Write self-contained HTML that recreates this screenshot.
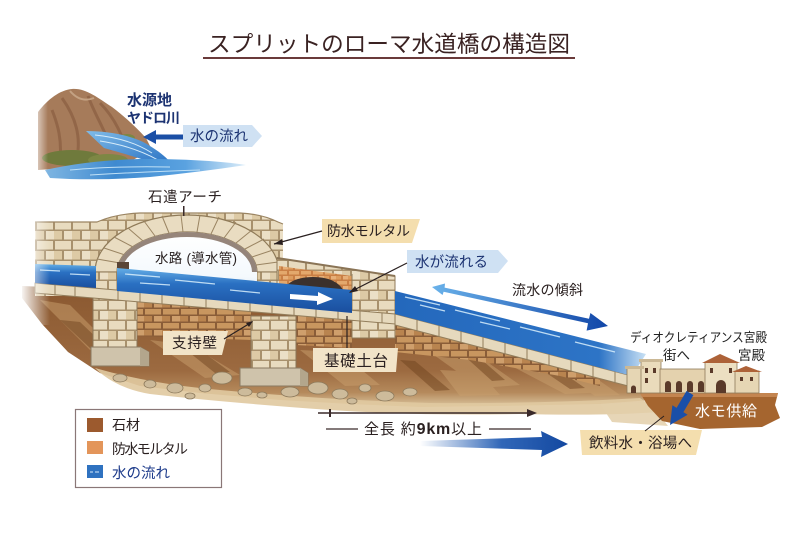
<!DOCTYPE html>
<html><head><meta charset="utf-8">
<style>
html,body{margin:0;padding:0;background:#fff;}
svg{display:block;}
text{font-family:"Liberation Sans","Noto Sans CJK JP",sans-serif;}
</style></head><body>
<svg width="800" height="533" viewBox="0 0 800 533" xmlns="http://www.w3.org/2000/svg">
<defs>
 <pattern id="st" width="18" height="20" patternUnits="userSpaceOnUse">
  <rect width="18" height="20" fill="#a8916d"/>
  <rect x="1" y="1" width="16" height="8.5" fill="#e8dbbf"/>
  <rect x="-8" y="11" width="16" height="8.5" fill="#ddcaa5"/>
  <rect x="10" y="11" width="16" height="8.5" fill="#ebdfc6"/>
 </pattern>
 <pattern id="ms" width="18" height="14" patternUnits="userSpaceOnUse">
  <rect width="18" height="14" fill="#8a5d38"/>
  <rect x="1" y="1" width="16" height="5.5" fill="#c8965f"/>
  <rect x="-8" y="8" width="16" height="5.5" fill="#b9844f"/>
  <rect x="10" y="8" width="16" height="5.5" fill="#cf9f6c"/>
 </pattern>
 <pattern id="mo" width="12" height="10" patternUnits="userSpaceOnUse">
  <rect width="12" height="10" fill="#c97f45"/>
  <rect x="1" y="1" width="10" height="3.5" fill="#e3a86c"/>
  <rect x="-5" y="6" width="10" height="3.5" fill="#dc9c5e"/>
  <rect x="7" y="6" width="10" height="3.5" fill="#e7b079"/>
 </pattern>
 <linearGradient id="earth" x1="0" y1="0" x2="0" y2="1">
  <stop offset="0" stop-color="#8a5830"/>
  <stop offset="0.7" stop-color="#9c6a40"/>
  <stop offset="0.88" stop-color="#b58a5c"/>
  <stop offset="1" stop-color="#dcc6a0"/>
 </linearGradient>
 <linearGradient id="wat" x1="0" y1="0" x2="0" y2="1">
  <stop offset="0" stop-color="#64aee6"/>
  <stop offset="0.35" stop-color="#2a70c2"/>
  <stop offset="1" stop-color="#1a4e9e"/>
 </linearGradient>
 <linearGradient id="watR" x1="395" y1="0" x2="650" y2="0" gradientUnits="userSpaceOnUse">
  <stop offset="0" stop-color="#2468bc"/>
  <stop offset="0.8" stop-color="#2d74c6"/>
  <stop offset="1" stop-color="#d6eaf8"/>
 </linearGradient>
 <linearGradient id="fadeL" x1="0" y1="0" x2="1" y2="0">
  <stop offset="0" stop-color="#fff" stop-opacity="1"/>
  <stop offset="1" stop-color="#fff" stop-opacity="0"/>
 </linearGradient>
 <linearGradient id="lake" x1="0" y1="0" x2="1" y2="0">
  <stop offset="0" stop-color="#7fb6e2"/>
  <stop offset="0.35" stop-color="#3f8ad0"/>
  <stop offset="0.7" stop-color="#5aa2e0"/>
  <stop offset="1" stop-color="#dcedf9"/>
 </linearGradient>
 <linearGradient id="fall" x1="0" y1="0" x2="1" y2="1">
  <stop offset="0" stop-color="#7fbbe8"/>
  <stop offset="1" stop-color="#2b73c4"/>
 </linearGradient>
 <linearGradient id="bigarr" x1="420" y1="0" x2="568" y2="0" gradientUnits="userSpaceOnUse">
  <stop offset="0" stop-color="#1a56b0" stop-opacity="0"/>
  <stop offset="0.55" stop-color="#1a56b0" stop-opacity="0.9"/>
  <stop offset="1" stop-color="#1348a0"/>
 </linearGradient>
 <linearGradient id="slarr" x1="432" y1="0" x2="608" y2="0" gradientUnits="userSpaceOnUse">
  <stop offset="0" stop-color="#6ab2ea"/>
  <stop offset="1" stop-color="#1146a8"/>
 </linearGradient>
 <linearGradient id="sky" x1="0" y1="0" x2="0" y2="1">
  <stop offset="0" stop-color="#ffffff"/>
  <stop offset="0.7" stop-color="#f4f9fd"/>
  <stop offset="1" stop-color="#cfe3f4"/>
 </linearGradient>
</defs>

<!-- Title -->
<text x="389" y="52" font-size="22.5" fill="#3a2222" text-anchor="middle" textLength="362" lengthAdjust="spacingAndGlyphs">スプリットのローマ水道橋の構造図</text>
<rect x="203" y="57" width="372" height="2" fill="#6a3a3a"/>

<!-- Mountain / source -->
<path d="M38,112 C48,99 60,90 72,89 C86,88 98,98 112,107 C124,116 136,127 146,138 L152,150 L125,164 L38,170 Z" fill="#a67b5a"/>
<path d="M62,98 C72,112 80,130 78,150 M88,96 C95,115 104,128 112,150 M100,103 C112,115 120,130 125,145 M52,110 C58,125 62,140 60,160" stroke="#8a5e40" stroke-width="3" fill="none" opacity="0.7"/>
<path d="M70,91 C76,98 84,102 94,98" stroke="#c4a283" stroke-width="2" fill="none"/>
<ellipse cx="72" cy="158" rx="30" ry="8" fill="#6f7a3c"/>
<ellipse cx="108" cy="160" rx="20" ry="6" fill="#7d8744"/>
<ellipse cx="127" cy="138" rx="8" ry="4" fill="#7d8744"/>
<path d="M86,131 C110,131 135,136 150,146 C158,151 165,156 170,162 L156,164 C140,158 118,152 104,148 Z" fill="url(#fall)"/>
<path d="M95,135 C115,137 135,142 152,153 M100,141 C120,144 140,150 158,160" stroke="#d6ecfa" stroke-width="1" fill="none"/>
<path d="M45,170 Q100,158 160,159 Q215,160 246,165 Q200,172 150,177 Q95,181 50,178 Z" fill="url(#lake)"/>
<path d="M70,170 Q110,166 170,167 M90,175 Q140,172 200,170" stroke="#bfe0f6" stroke-width="1" fill="none"/>
<rect x="30" y="85" width="18" height="100" fill="url(#fadeL)"/>

<text x="127" y="105" font-size="15" fill="#1c3372" font-weight="bold">水源地</text>
<text x="127" y="123" font-size="14" fill="#1c3372" font-weight="bold" textLength="53">ヤドロ川</text>
<polygon points="183,125 252,125 262,136 252,147 183,147" fill="#cfe1f3"/>
<text x="190" y="141" font-size="14.5" fill="#1c3372" textLength="58">水の流れ</text>
<rect x="153" y="134.5" width="30" height="5" fill="#1b4fa6"/>
<polygon points="143,137 156,130 156,144" fill="#1b4fa6"/>

<!-- Ground / earth -->
<path d="M22,286 L96,289 L395,314 L632,377 L660,392 L650,400 L600,404 L500,406 L420,407 L350,404 L280,400 L200,393 L140,386 L100,373 L68,352 L42,324 L22,298 Z" fill="url(#earth)"/>
<!-- earth streaks -->
<g fill="#c9a06e" opacity="0.5">
 <path d="M40,300 L70,305 L110,345 L90,350 Z"/>
 <path d="M150,340 L190,345 L240,375 L205,378 Z"/>
 <path d="M300,350 L340,352 L380,385 L345,386 Z"/>
 <path d="M420,345 L470,350 L520,385 L480,388 Z"/>
 <path d="M500,360 L560,365 L610,392 L565,394 Z"/>
 <path d="M440,370 L480,372 L500,395 L460,396 Z"/>
 <path d="M560,372 L590,374 L620,395 L595,396 Z"/>
</g>
<g fill="#70441f" opacity="0.5">
 <path d="M60,320 L80,322 L120,360 L105,362 Z"/>
 <path d="M180,345 L195,346 L230,372 L215,373 Z"/>
 <path d="M520,355 L540,357 L585,388 L570,389 Z"/>
 <path d="M400,360 L415,361 L450,390 L435,391 Z"/>
 <path d="M460,352 L475,354 L505,380 L492,381 Z"/>
</g>
<!-- masonry under coping -->
<path d="M135,298 L252,309 L252,340 L135,336 Z" fill="url(#ms)"/>
<path d="M296,313 L352,318 L352,348 L296,345 Z" fill="url(#ms)"/>
<path d="M395,323 L560,366 L600,380 L600,386 L560,376 L470,360 L395,352 Z" fill="url(#ms)"/>

<!-- sandy bottom -->
<path d="M95,368 Q150,384 220,390 Q330,400 430,403 Q540,404 640,398 L660,412 Q600,416 520,414 Q420,416 330,410 Q220,402 150,394 Q115,388 95,368 Z" fill="#e0c9a0" opacity="0.9"/>
<!-- rocks -->
<g fill="#cdbb9b" stroke="#8d7a5c" stroke-width="0.8">
 <ellipse cx="120" cy="378" rx="7" ry="4"/>
 <ellipse cx="150" cy="384" rx="6" ry="4"/>
 <ellipse cx="175" cy="388" rx="8" ry="5"/>
 <ellipse cx="205" cy="388" rx="6" ry="4"/>
 <ellipse cx="222" cy="378" rx="10" ry="6"/>
 <ellipse cx="245" cy="392" rx="7" ry="4"/>
 <ellipse cx="262" cy="395" rx="5" ry="3"/>
 <ellipse cx="290" cy="392" rx="9" ry="5"/>
 <ellipse cx="318" cy="388" rx="10" ry="6"/>
 <ellipse cx="300" cy="380" rx="7" ry="5"/>
 <ellipse cx="340" cy="394" rx="8" ry="5"/>
 <ellipse cx="365" cy="388" rx="6" ry="4"/>
 <ellipse cx="385" cy="396" rx="9" ry="5"/>
 <ellipse cx="410" cy="392" rx="7" ry="4"/>
 <ellipse cx="190" cy="396" rx="5" ry="3"/>
 <ellipse cx="352" cy="401" rx="5" ry="3"/>
</g>

<!-- Piers -->
<rect x="93" y="295" width="44" height="58" fill="url(#st)" stroke="#8a7557" stroke-width="1"/>
<polygon points="91,347 140,347 149,352 149,366 91,366" fill="#cfc3ab" stroke="#8a7a62" stroke-width="1"/>
<polygon points="140,347 149,352 149,366 140,366" fill="#b3a68c"/>
<rect x="251" y="316" width="45" height="54" fill="url(#st)" stroke="#8a7557" stroke-width="1"/>
<polygon points="240,368 300,368 308,373 308,386 240,386" fill="#cfc3ab" stroke="#8a7a62" stroke-width="1"/>
<polygon points="300,368 308,373 308,386 300,386" fill="#b3a68c"/>

<!-- Left wall + arch wall -->
<path d="M35,222 L97,222 Q115,214 140,213 L240,213 Q262,214 278,222 L283,224 L283,296 L35,296 Z" fill="url(#st)"/>
<path d="M35,222 L97,222 Q115,214 140,213 L240,213 Q262,214 278,222 L283,224" stroke="#9a8462" stroke-width="1.2" fill="none"/>
<!-- arch ring -->
<path d="M95,272 A92,57 0 0 1 279,272 L257,272 A70,40 0 0 0 117,272 Z" fill="#e9dcc1" stroke="#8f7a58" stroke-width="1.2"/>
<g stroke="#9a8462" stroke-width="1">
 <line x1="256" y1="265" x2="278" y2="262"/>
 <line x1="252" y1="257" x2="273" y2="250"/>
 <line x1="245" y1="249" x2="264" y2="239"/>
 <line x1="236" y1="243" x2="252" y2="230"/>
 <line x1="224" y1="238" x2="236" y2="222"/>
 <line x1="211" y1="234" x2="219" y2="217"/>
 <line x1="197" y1="232" x2="200" y2="215"/>
 <line x1="183" y1="232" x2="181" y2="215"/>
 <line x1="169" y1="233" x2="162" y2="216"/>
 <line x1="155" y1="236" x2="144" y2="221"/>
 <line x1="143" y1="241" x2="128" y2="228"/>
 <line x1="133" y1="247" x2="114" y2="237"/>
 <line x1="125" y1="255" x2="104" y2="248"/>
 <line x1="120" y1="263" x2="97" y2="259"/>
</g>
<!-- arch legs -->
<rect x="95" y="272" width="22" height="24" fill="url(#st)" stroke="#8f7a58" stroke-width="1"/>
<rect x="257" y="272" width="22" height="24" fill="url(#st)" stroke="#8f7a58" stroke-width="1"/>
<!-- arch opening -->
<path d="M117,296 L117,272 A70,40 0 0 1 257,272 L257,296 Z" fill="url(#sky)"/>
<path d="M117,272 A70,40 0 0 1 257,272 L252,272 A65,35 0 0 0 122,272 Z" fill="#6a5142" opacity="0.7"/>
<rect x="117" y="262" width="12" height="16" fill="#5a4536"/>
<text x="196" y="263" font-size="13.5" fill="#2a2222" text-anchor="middle" textLength="82">水路 (導水管)</text>
<rect x="183" y="206" width="1.5" height="10" fill="#3a2a2a"/>
<text x="185" y="202" font-size="14.5" fill="#2a2020" text-anchor="middle" textLength="74">石遣アーチ</text>

<!-- right block with small arch -->
<path d="M277,258 L395,276 L395,338 L352,338 L352,318 L277,306 Z" fill="url(#st)" stroke="#8f7a58" stroke-width="1"/>
<path d="M277,258 L395,276" stroke="#8a7456" stroke-width="2"/>
<path d="M279,266 L352,276 L352,316 L279,306 Z" fill="url(#mo)"/>
<path d="M281,300 C281,284 295,277 313,277 C331,277 346,284 346,302 Z" fill="#3b312d"/>
<line x1="352" y1="274" x2="352" y2="338" stroke="#8f7a58" stroke-width="1"/>

<!-- coping -->
<path d="M35,283 L395,314 L395,324 L35,293 Z" fill="#e6d9bd" stroke="#927d5b" stroke-width="1"/>
<g stroke="#927d5b" stroke-width="1">
 <path d="M55,285 v10 M75,287 v10 M118,290.5 v10 M140,292.5 v10 M162,294.5 v10 M184,296.5 v10 M206,298 v10 M228,300 v10 M250,302 v10 M272,304 v10 M294,305.5 v10 M316,307.5 v10 M338,309 v10 M360,311 v10 M382,313 v10"/>
</g>
<path d="M395,314 L632,376 L632,387 L395,325 Z" fill="#e6d9bd" stroke="#927d5b" stroke-width="1"/>
<g stroke="#927d5b" stroke-width="1">
 <path d="M417,319.8 v11 M439,325.5 v11 M461,331.3 v11 M483,337 v11 M505,342.8 v11 M527,348.5 v11 M549,354.3 v11 M571,360 v11 M593,365.8 v11 M615,371.5 v11"/>
</g>

<!-- water -->
<path d="M35,264 L96,266 L96,288 L35,283 Z" fill="url(#wat)"/>
<path d="M117,268 L352,290 L352,313 L117,291 Z" fill="url(#wat)"/>
<path d="M395,291 L646,354 L632,376 L395,314 Z" fill="url(#watR)"/>
<g stroke="#d8eefc" stroke-width="1.3" fill="none" opacity="0.85">
 <path d="M40,270 L60,271 M70,274 L90,275"/>
 <path d="M125,274 L160,277 M175,280 L215,284 M140,283 L170,285 M230,290 L260,293"/>
 <path d="M405,297 L440,305 M455,310 L500,321 M420,305 L445,311 M520,327 L560,337 M575,342 L615,352 M480,322 L510,329"/>
</g>
<polygon points="290,294 318,296 318,292 333,299 317,305 317,301 290,299" fill="#ffffff"/>
<rect x="20" y="215" width="30" height="110" fill="url(#fadeL)"/>

<!-- Labels: mortar -->
<polygon points="322,219 420,219 412,243 322,243" fill="#f4deae"/>
<text x="327" y="236" font-size="14" fill="#2a2020" textLength="83">防水モルタル</text>
<line x1="322" y1="231" x2="274" y2="244" stroke="#2a2020" stroke-width="1.2"/>
<polygon points="274,244 282,239 283,245" fill="#2a2020"/>

<!-- 水が流れる -->
<polygon points="407,250 498,250 508,261 498,273 407,273" fill="#cfe1f3"/>
<text x="415" y="267" font-size="14.5" fill="#1c3372" textLength="73">水が流れる</text>
<line x1="407" y1="263" x2="350" y2="292" stroke="#2a2020" stroke-width="1.2"/>
<polygon points="349,293 355,286 358,291" fill="#2a2020"/>

<!-- 流水の傾斜 -->
<polygon points="432,287 445,283.5 444.6,287.6 589,318.8 590.4,313 608,326 586.6,330.6 588,323.2 443.6,291.8 442.6,295" fill="url(#slarr)"/>
<text x="512" y="295" font-size="14" fill="#2a2020" textLength="71">流水の傾斜</text>

<!-- 支持壁 -->
<polygon points="163,331 228,331 222,355 163,355" fill="#f2e4c8"/>
<text x="172" y="348" font-size="14.5" fill="#2a2020" textLength="45">支持壁</text>
<line x1="224" y1="339" x2="252" y2="322" stroke="#2a2020" stroke-width="1.2"/>
<polygon points="253,321 246,323 249,327" fill="#2a2020"/>

<!-- 基礎土台 -->
<line x1="347" y1="316" x2="347" y2="349" stroke="#2a2020" stroke-width="1.2"/>
<polygon points="313,348 398,348 396,372 313,372" fill="#f2e4c8"/>
<text x="324" y="366" font-size="15.5" fill="#2a2020" textLength="64">基礎土台</text>

<!-- road band right -->
<path d="M600,404 L650,402 L668,426 L612,422 Z" fill="#e3cfaa" opacity="0.85"/>
<path d="M640,393 L778,393 L775,405 L780,418 L762,427 L700,429 L662,421 L648,406 Z" fill="#a5652f"/>
<path d="M640,393 L778,393 L777,397 L642,397 Z" fill="#c48550"/>

<!-- Buildings -->
<g stroke="#8e7a5a" stroke-width="0.8">
 <rect x="627" y="368" width="15" height="25" fill="#e6d6b4"/>
 <rect x="641" y="361" width="20" height="32" fill="#eadbbb"/>
 <rect x="660" y="369" width="46" height="24" fill="#e4d2ae"/>
 <rect x="705" y="362" width="32" height="31" fill="#ecdfc2"/>
 <rect x="735" y="371" width="24" height="22" fill="#e6d6b4"/>
</g>
<polygon points="702,363 720,354 740,363" fill="#ad6238"/>
<polygon points="732,372 746,366 762,372" fill="#ad6238"/>
<rect x="625" y="366" width="19" height="3" fill="#cbb895"/>
<rect x="639" y="359" width="24" height="3" fill="#cbb895"/>
<g fill="#5a3a2a">
 <path d="M665,392 v-8 a3,3 0 0 1 6,0 v8 Z"/>
 <path d="M676,392 v-8 a3,3 0 0 1 6,0 v8 Z"/>
 <path d="M687,392 v-8 a3,3 0 0 1 6,0 v8 Z"/>
 <path d="M698,392 v-8 a3,3 0 0 1 6,0 v8 Z"/>
 <path d="M716,393 v-8 a5,5 0 0 1 10,0 v8 Z"/>
 <path d="M631,393 v-5 a2.5,2.5 0 0 1 5,0 v5 Z"/>
 <rect x="645" y="368" width="3" height="5"/>
 <rect x="653" y="368" width="3" height="5"/>
 <rect x="710" y="368" width="3" height="5"/>
 <rect x="729" y="368" width="3" height="5"/>
 <rect x="740" y="377" width="3" height="4"/>
 <rect x="750" y="377" width="3" height="4"/>
 <rect x="645" y="378" width="3" height="5"/>
</g>

<text x="630" y="342" font-size="13" fill="#222" textLength="137" lengthAdjust="spacingAndGlyphs">ディオクレティアンス宮殿</text>
<text x="663" y="360" font-size="13.5" fill="#222">街へ</text>
<text x="738" y="360" font-size="13.5" fill="#222">宮殿</text>

<!-- 水モ供給 -->
<text x="695" y="416" font-size="15" fill="#ffffff" textLength="62">水モ供給</text>
<polygon points="686.6,390.9 693.4,395.1 683.4,412.1 687.6,414.8 670,425 672.4,405.2 676.6,407.9" fill="#1a4fa8"/>

<!-- 飲料水・浴場へ -->
<polygon points="580,430 702,430 696,455 582,455" fill="#f4deae"/>
<line x1="645" y1="431" x2="664" y2="416" stroke="#2a2020" stroke-width="1"/>
<text x="589" y="448" font-size="14.5" fill="#2a2020" textLength="103">飲料水・浴場へ</text>

<!-- dimension -->
<line x1="318" y1="413" x2="530" y2="413" stroke="#3a2a2a" stroke-width="1.5"/>
<polygon points="537,413 527,409 527,417" fill="#3a2a2a"/>
<rect x="329" y="409" width="2" height="8" fill="#3a2a2a"/>
<line x1="326" y1="429" x2="358" y2="429" stroke="#3a2a2a" stroke-width="1.3"/>
<line x1="489" y1="429" x2="531" y2="429" stroke="#3a2a2a" stroke-width="1.3"/>
<text x="364" y="434" font-size="15" fill="#2a2020" textLength="118">全長 約<tspan font-weight="bold" font-size="16">9km</tspan>以上</text>

<!-- big arrow -->
<polygon points="420,441 542,437 541,431 568,444 541,457 542,450 420,446" fill="url(#bigarr)"/>

<!-- legend -->
<rect x="75.5" y="409.5" width="146" height="78" fill="#fff" stroke="#8a7777" stroke-width="1.2"/>
<rect x="87" y="418" width="16" height="14" fill="#9c5a2e"/>
<rect x="87" y="441" width="16" height="13" fill="#e3955a"/>
<rect x="87" y="465" width="16" height="13" fill="#2f72c0"/>
<path d="M90,472 h3 M95,472 h4" stroke="#d8ecfb" stroke-width="1"/>
<text x="112" y="430" font-size="14" fill="#2a2020">石材</text>
<text x="112" y="454" font-size="14" fill="#2a2020" textLength="76">防水モルタル</text>
<text x="112" y="478" font-size="14.5" fill="#1c3a8a" textLength="58">水の流れ</text>
</svg>
</body></html>
